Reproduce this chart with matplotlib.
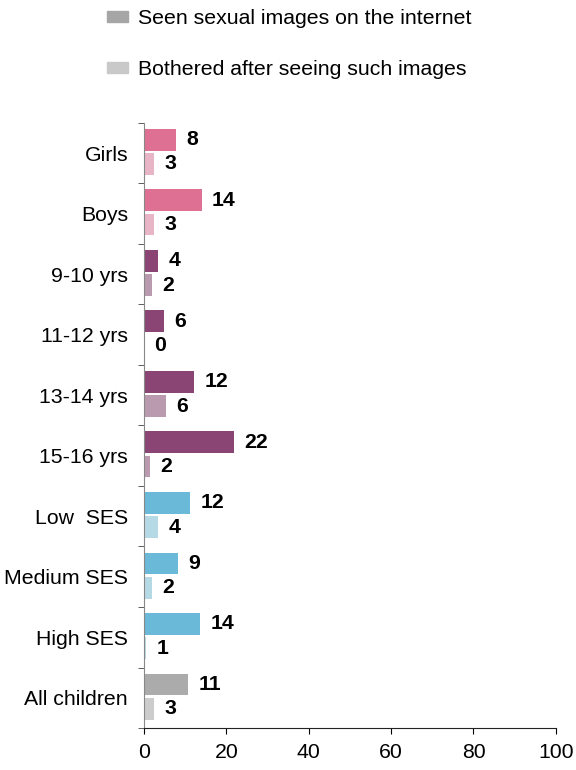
import numpy as np
import matplotlib
matplotlib.use("Agg")
import matplotlib.pyplot as plt
from matplotlib.patches import Patch

plt.rcParams['font.family'] = ['Liberation Sans', 'DejaVu Sans']

# data
categories = ["Girls", "Boys", "9-10 yrs", "11-12 yrs", "13-14 yrs",
              "15-16 yrs", "Low  SES", "Medium SES", "High SES", "All children"]
seen = [7.8, 14.0, 3.5, 4.9, 12.1, 21.8, 11.2, 8.3, 13.6, 10.7]
bothered = [2.4, 2.4, 2.0, 0.0, 5.3, 1.5, 3.4, 1.9, 0.5, 2.4]
seen_labels = ["8", "14", "4", "6", "12", "22", "12", "9", "14", "11"]
bothered_labels = ["3", "3", "2", "0", "6", "2", "4", "2", "1", "3"]

seen_colors = ["#DE7093"] * 2 + ["#8B4574"] * 4 + ["#6BB9D9"] * 3 + ["#ABABAB"]
both_colors = ["#E8B5C7"] * 2 + ["#B99AAE"] * 4 + ["#B6D9E6"] * 3 + ["#CCCCCC"]

fs = 15.3

fig = plt.figure(figsize=(5.76, 7.7), dpi=100)
ax = fig.add_axes([0.25, 0.0545, 0.715, 0.786])

y = np.arange(len(categories))
h = 0.36
ax.barh(y - 0.22, seen, height=h, color=seen_colors)
ax.barh(y + 0.18, bothered, height=h, color=both_colors)

for i in range(len(categories)):
    ax.annotate(seen_labels[i], (seen[i], y[i] - 0.22), xytext=(7.5, 0),
                textcoords="offset points", va="center", ha="left",
                fontsize=fs, fontweight="bold")
    ax.annotate(bothered_labels[i], (bothered[i], y[i] + 0.18), xytext=(7.5, 0),
                textcoords="offset points", va="center", ha="left",
                fontsize=fs, fontweight="bold")

ax.set_xlim(0, 100)
ax.set_ylim(len(categories) - 0.5, -0.5)
ax.set_xticks(range(0, 101, 20))
ax.set_yticks(y)
ax.set_yticklabels(categories)
ax.set_yticks(np.arange(-0.5, len(categories), 1), minor=True)
ax.tick_params(axis="y", which="major", length=0, pad=11.5, labelsize=fs)
ax.tick_params(axis="y", which="minor", length=4, direction="out", color="#444444")
ax.tick_params(axis="x", length=4, direction="out", labelsize=fs, pad=7)

for s in ["top", "right"]:
    ax.spines[s].set_visible(False)
ax.spines["left"].set_color("#888888")
ax.spines["bottom"].set_color("#222222")

handles = [Patch(color="#A6A6A6"), Patch(color="#C9C9C9")]
fig.legend(handles, ["Seen sexual images on the internet",
                     "Bothered after seeing such images"],
           loc="upper left", bbox_to_anchor=(107 / 576, 1 - 9 / 770), frameon=False,
           fontsize=fs, handlelength=1.0, handleheight=0.45,
           labelspacing=1.5, handletextpad=0.45, borderpad=0, borderaxespad=0)

fig.savefig("out.png", dpi=100)
